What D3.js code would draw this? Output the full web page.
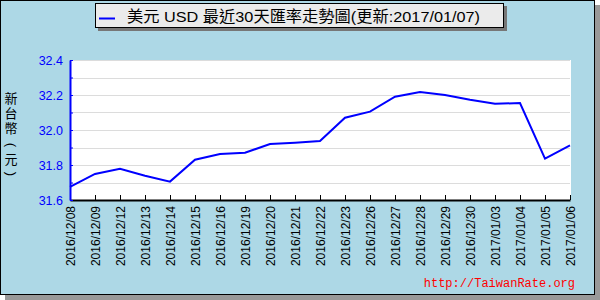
<!DOCTYPE html>
<html>
<head>
<meta charset="utf-8">
<script src="https://cdn.jsdelivr.net/npm/d3@7"></script>
<style>
  body { margin: 0; background: #fff; }
  text { font-family: "Liberation Sans", "Noto Sans CJK TC", sans-serif; }
</style>
</head>
<body>
<div id="chart"></div>
<script>
// data
var dates = ["2016/12/08", "2016/12/09", "2016/12/12", "2016/12/13", "2016/12/14",
  "2016/12/15", "2016/12/16", "2016/12/19", "2016/12/20", "2016/12/21", "2016/12/22",
  "2016/12/23", "2016/12/26", "2016/12/27", "2016/12/28", "2016/12/29", "2016/12/30",
  "2017/01/03", "2017/01/04", "2017/01/05", "2017/01/06"];
var rates = [31.675, 31.749, 31.778, 31.739, 31.705,
  31.830, 31.863, 31.870, 31.920, 31.927, 31.937,
  32.070, 32.105, 32.190, 32.217, 32.200, 32.173,
  32.150, 32.154, 31.836, 31.912];
var yTicks = [31.6, 31.8, 32.0, 32.2, 32.4];
var yGrid = [31.7, 31.8, 31.9, 32.0, 32.1, 32.2, 32.3, 32.4];
var titleText = "美元 USD 最近30天匯率走勢圖(更新:2017/01/07)";
var yTitleChars = ["新", "台", "幣", "(", "元", ")"];

var svgWidth = 600, svgHeight = 300;
var margin = {top: 60, left: 70, right: 30, bottom: 100};
var width = 500, height = 140;

var svg = d3.select("#chart").append("svg")
  .attr("width", svgWidth)
  .attr("height", svgHeight);

// shadow + frame
svg.append("rect").attr("x", 5).attr("y", 5).attr("width", 595).attr("height", 295)
  .attr("fill", "#999");
svg.append("rect").attr("x", 0.5).attr("y", 0.5).attr("width", 594).attr("height", 294)
  .attr("fill", "#add8e6").attr("stroke", "#000");

var chartGroup = svg.append("g")
  .attr("transform", `translate(${margin.left}, ${margin.top})`);

var x = d3.scalePoint().domain(dates).range([0, width]);
var y = d3.scaleLinear().domain([31.6, 32.4]).range([height, 0]);

chartGroup.append("rect").attr("width", width + 1).attr("height", height)
  .attr("fill", "#fff");

// grid lines
chartGroup.selectAll(".grid").data(yGrid).enter().append("line")
  .attr("x1", 0).attr("x2", width)
  .attr("y1", d => Math.round(y(d)) + 0.5).attr("y2", d => Math.round(y(d)) + 0.5)
  .attr("stroke", "#dcdcdc").attr("stroke-width", 1);

// x axis
var xAxis = chartGroup.append("g")
  .attr("transform", `translate(0, ${height})`)
  .call(d3.axisBottom(x).tickSizeInner(-5).tickSizeOuter(0).tickPadding(8));
xAxis.select(".domain").attr("stroke", "#000").attr("stroke-width", 2);
xAxis.selectAll("line").attr("stroke", "#000");
xAxis.selectAll("text")
  .attr("font-size", 12)
  .attr("fill", "#000")
  .attr("transform", "rotate(-90)")
  .attr("text-anchor", "end")
  .attr("x", -6)
  .attr("y", 0)
  .attr("dy", "0.35em");

// y axis
var yAxis = chartGroup.append("g")
  .call(d3.axisLeft(y).tickValues(yGrid.concat([31.6])).tickSizeInner(-3).tickSizeOuter(0)
    .tickPadding(7).tickFormat(d => yTicks.some(t => Math.abs(t - d) < 1e-6) ? d3.format(".1f")(d) : ""));
yAxis.select(".domain").attr("stroke", "#00f").attr("stroke-width", 2);
yAxis.selectAll("line").attr("stroke", "#00f");
yAxis.selectAll("text").attr("font-size", 12.5).attr("fill", "#00f");

// rate line
chartGroup.append("path")
  .datum(rates)
  .attr("fill", "none")
  .attr("stroke", "#00f")
  .attr("stroke-width", 2)
  .attr("d", d3.line().x((d, i) => x(dates[i])).y(d => y(d)));

// y axis title, stacked characters (parens turned sideways)
var yTitlePos = [98, 113, 128, 145, 159, 174];
svg.selectAll(".ytitle").data(yTitleChars).enter().append("text")
  .attr("font-size", 13)
  .attr("fill", "#000")
  .attr("text-anchor", "middle")
  .attr("dominant-baseline", "central")
  .attr("transform", (d, i) => `translate(11, ${yTitlePos[i]})` + (d === "(" || d === ")" ? " rotate(90)" : ""))
  .text(d => d);

// title box
svg.append("rect").attr("x", 98).attr("y", 6).attr("width", 409).attr("height", 25)
  .attr("fill", "#777");
svg.append("rect").attr("x", 95.5).attr("y", 3.5).attr("width", 408).attr("height", 24)
  .attr("fill", "#ebebeb").attr("stroke", "#000");
svg.append("line").attr("x1", 99).attr("x2", 115).attr("y1", 18.5).attr("y2", 18.5)
  .attr("stroke", "#00f").attr("stroke-width", 2);
svg.append("text")
  .attr("x", 127).attr("y", 22)
  .attr("font-size", 15.5)
  .attr("fill", "#000")
  .attr("textLength", 353)
  .attr("lengthAdjust", "spacingAndGlyphs")
  .text(titleText);

// watermark
svg.append("text")
  .attr("x", 575).attr("y", 287)
  .attr("text-anchor", "end")
  .attr("font-size", 12)
  .attr("fill", "#f00")
  .style("font-family", "'Liberation Mono', monospace")
  .text("http://TaiwanRate.org");
</script>
</body>
</html>
